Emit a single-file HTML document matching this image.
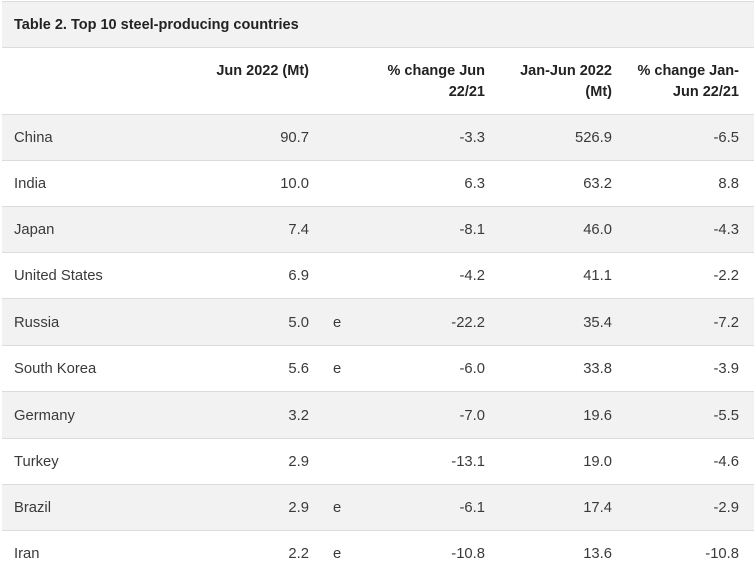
<!DOCTYPE html>
<html><head><meta charset="utf-8">
<style>
html,body{margin:0;padding:0;background:#fff;width:754px;height:580px;overflow:hidden;}
body{font-family:"Liberation Sans","DejaVu Sans",sans-serif;color:#3a3a3a;}
.ln{position:absolute;left:2px;width:752px;height:1px;background:#dcdcdc;}
.bg{position:absolute;left:2px;width:752px;background:#f2f2f2;}
.t{position:absolute;white-space:nowrap;font-size:14.8px;line-height:20px;}
.r{text-align:right;}
.h{font-weight:bold;color:#222;font-size:14.5px;line-height:21px;}
</style></head><body>
<div class="ln" style="top:1px"></div>
<div class="bg" style="top:2px;height:45px"></div>
<div class="ln" style="top:47px"></div>
<div class="t h" style="left:14px;top:15px;">Table 2. Top 10 steel-producing countries</div>

<div class="ln" style="top:114px"></div>
<div class="t h r" style="right:445px;top:61px;">Jun 2022 (Mt)</div>
<div class="t h r" style="right:269px;top:61px;">% change Jun<br>22/21</div>
<div class="t h r" style="right:142px;top:61px;">Jan-Jun 2022<br>(Mt)</div>
<div class="t h r" style="right:15px;top:61px;">% change Jan-<br>Jun 22/21</div>

<div class="bg" style="top:115px;height:45px"></div><div class="ln" style="top:160px"></div>
<div class="ln" style="top:206px"></div>
<div class="bg" style="top:207px;height:45px"></div><div class="ln" style="top:252px"></div>
<div class="ln" style="top:298px"></div>
<div class="bg" style="top:299px;height:46px"></div><div class="ln" style="top:345px"></div>
<div class="ln" style="top:391px"></div>
<div class="bg" style="top:392px;height:46px"></div><div class="ln" style="top:438px"></div>
<div class="ln" style="top:484px"></div>
<div class="bg" style="top:485px;height:45px"></div><div class="ln" style="top:530px"></div>

<div class="t" style="left:14px;top:128px">China</div>
<div class="t r" style="right:445px;top:128px">90.7</div>
<div class="t r" style="right:269px;top:128px">-3.3</div>
<div class="t r" style="right:142px;top:128px">526.9</div>
<div class="t r" style="right:15px;top:128px">-6.5</div>

<div class="t" style="left:14px;top:174px">India</div>
<div class="t r" style="right:445px;top:174px">10.0</div>
<div class="t r" style="right:269px;top:174px">6.3</div>
<div class="t r" style="right:142px;top:174px">63.2</div>
<div class="t r" style="right:15px;top:174px">8.8</div>

<div class="t" style="left:14px;top:220px">Japan</div>
<div class="t r" style="right:445px;top:220px">7.4</div>
<div class="t r" style="right:269px;top:220px">-8.1</div>
<div class="t r" style="right:142px;top:220px">46.0</div>
<div class="t r" style="right:15px;top:220px">-4.3</div>

<div class="t" style="left:14px;top:266px">United States</div>
<div class="t r" style="right:445px;top:266px">6.9</div>
<div class="t r" style="right:269px;top:266px">-4.2</div>
<div class="t r" style="right:142px;top:266px">41.1</div>
<div class="t r" style="right:15px;top:266px">-2.2</div>

<div class="t" style="left:14px;top:313px">Russia</div>
<div class="t r" style="right:445px;top:313px">5.0</div>
<div class="t" style="left:333px;top:313px">e</div>
<div class="t r" style="right:269px;top:313px">-22.2</div>
<div class="t r" style="right:142px;top:313px">35.4</div>
<div class="t r" style="right:15px;top:313px">-7.2</div>

<div class="t" style="left:14px;top:359px">South Korea</div>
<div class="t r" style="right:445px;top:359px">5.6</div>
<div class="t" style="left:333px;top:359px">e</div>
<div class="t r" style="right:269px;top:359px">-6.0</div>
<div class="t r" style="right:142px;top:359px">33.8</div>
<div class="t r" style="right:15px;top:359px">-3.9</div>

<div class="t" style="left:14px;top:406px">Germany</div>
<div class="t r" style="right:445px;top:406px">3.2</div>
<div class="t r" style="right:269px;top:406px">-7.0</div>
<div class="t r" style="right:142px;top:406px">19.6</div>
<div class="t r" style="right:15px;top:406px">-5.5</div>

<div class="t" style="left:14px;top:452px">Turkey</div>
<div class="t r" style="right:445px;top:452px">2.9</div>
<div class="t r" style="right:269px;top:452px">-13.1</div>
<div class="t r" style="right:142px;top:452px">19.0</div>
<div class="t r" style="right:15px;top:452px">-4.6</div>

<div class="t" style="left:14px;top:498px">Brazil</div>
<div class="t r" style="right:445px;top:498px">2.9</div>
<div class="t" style="left:333px;top:498px">e</div>
<div class="t r" style="right:269px;top:498px">-6.1</div>
<div class="t r" style="right:142px;top:498px">17.4</div>
<div class="t r" style="right:15px;top:498px">-2.9</div>

<div class="t" style="left:14px;top:544px">Iran</div>
<div class="t r" style="right:445px;top:544px">2.2</div>
<div class="t" style="left:333px;top:544px">e</div>
<div class="t r" style="right:269px;top:544px">-10.8</div>
<div class="t r" style="right:142px;top:544px">13.6</div>
<div class="t r" style="right:15px;top:544px">-10.8</div>
</body></html>
